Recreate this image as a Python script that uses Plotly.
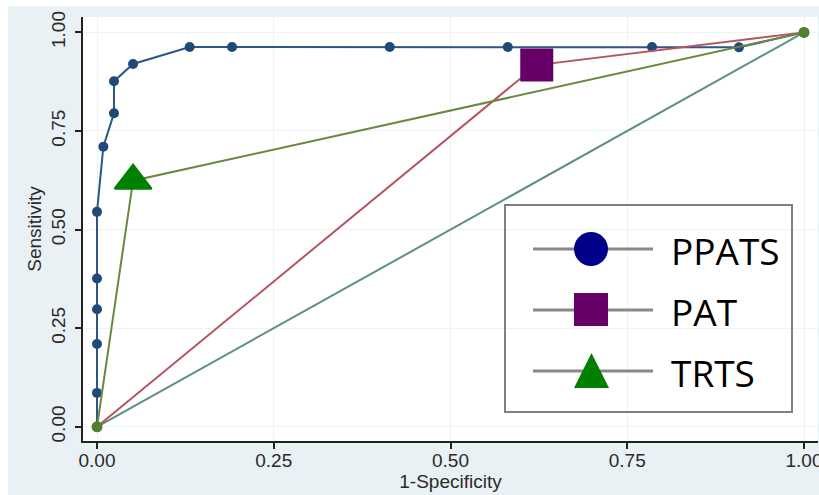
import plotly.graph_objects as go

# ---------------- data ----------------
ppats_x = [0, 0, 0, 0, 0, 0, 0.009, 0.024, 0.024, 0.051, 0.131, 0.191, 0.414, 0.581, 0.785, 0.908, 1]
ppats_y = [0, 0.086, 0.21, 0.298, 0.376, 0.545, 0.71, 0.795, 0.876, 0.92, 0.963, 0.963, 0.963, 0.963, 0.963, 0.962, 1]

pat_x = [0, 0.622, 1]
pat_y = [0, 0.917, 1]

trts_x = [0, 0.051, 1]
trts_y = [0, 0.624, 1]

ref_x = [0, 1]
ref_y = [0, 1]

tick_vals = [0, 0.25, 0.5, 0.75, 1]
tick_text = ["0.00", "0.25", "0.50", "0.75", "1.00"]
legend_names = ["PPATS", "PAT", "TRTS"]

x_title = "1-Specificity"
y_title = "Sensitivity"

# ---------------- figure ----------------
W, H = 819, 495
ML, MR, MT, MB = 83, 1, 17, 54
PW, PH = W - ML - MR, H - MT - MB


def px(x):
    return (x - ML) / PW


def py(y):
    return (H - MB - y) / PH


fig = go.Figure()

fig.add_trace(go.Scatter(x=ref_x, y=ref_y, mode="lines",
                         line=dict(color="#5f8f80", width=2), hoverinfo="skip"))
fig.add_trace(go.Scatter(x=ppats_x, y=ppats_y, mode="lines+markers",
                         line=dict(color="#2e5684", width=2),
                         marker=dict(symbol="circle", size=10, color="#1f4a78")))
fig.add_trace(go.Scatter(x=pat_x, y=pat_y, mode="lines+markers",
                         line=dict(color="#b5555f", width=2),
                         marker=dict(symbol="circle", size=10, color="#90353b")))
fig.add_trace(go.Scatter(x=trts_x, y=trts_y, mode="lines+markers",
                         line=dict(color="#6b8840", width=2),
                         marker=dict(symbol="circle", size=11, color="#4f7f2f")))
# large operating-point markers
fig.add_trace(go.Scatter(x=[pat_x[1]], y=[pat_y[1]], mode="markers",
                         marker=dict(symbol="square", size=33, color="#660066")))
fig.add_trace(go.Scatter(x=[trts_x[1]], y=[trts_y[1]], mode="markers",
                         marker=dict(symbol="triangle-up", size=32, color="#008000",
                                     line=dict(color="#008000", width=2))))

axis_font = dict(family="Liberation Sans, Arial, sans-serif", size=19, color="#2a2a2a")
common = dict(
    tickvals=tick_vals, ticktext=tick_text,
    showline=True, linecolor="#222222", linewidth=1.5,
    ticks="outside", ticklen=6, tickwidth=1.5, tickcolor="#222222",
    showgrid=True, gridcolor="#EDF2F4", gridwidth=1,
    zeroline=False, tickfont=axis_font, ticklabeloverflow="allow",
    automargin=False,
)
fig.update_xaxes(range=[-0.0198, 1.0198], ticklabelstandoff=-5,
                 title=dict(text=x_title, font=axis_font, standoff=0), **common)
fig.update_yaxes(range=[-0.036, 1.039], tickangle=-90, ticklabelstandoff=3,
                 title=dict(text=y_title, font=axis_font, standoff=1), **common)

shapes = []
# white strips at top/left of the image
shapes.append(dict(type="rect", xref="paper", yref="paper",
                   x0=px(0), x1=px(W), y0=py(6), y1=py(0),
                   fillcolor="white", line=dict(width=0), layer="above"))
shapes.append(dict(type="rect", xref="paper", yref="paper",
                   x0=px(0), x1=px(8), y0=py(H), y1=py(0),
                   fillcolor="white", line=dict(width=0), layer="above"))

# custom legend
shapes.append(dict(type="rect", xref="paper", yref="paper",
                   x0=px(505), x1=px(792), y0=py(412), y1=py(205),
                   line=dict(color="#7f7f7f", width=2), layer="above"))
rows = [249, 310, 371]
for ry in rows:
    shapes.append(dict(type="line", xref="paper", yref="paper",
                       x0=px(533), x1=px(653), y0=py(ry), y1=py(ry),
                       line=dict(color="#888888", width=3), layer="above"))
shapes.append(dict(type="circle", xref="paper", yref="paper",
                   x0=px(574), x1=px(608), y0=py(266), y1=py(232),
                   fillcolor="#00008B", line=dict(width=0), layer="above"))
shapes.append(dict(type="rect", xref="paper", yref="paper",
                   x0=px(574), x1=px(608), y0=py(326), y1=py(293),
                   fillcolor="#660066", line=dict(width=0), layer="above"))
tri = "M {},{} L {},{} L {},{} Z".format(px(574), py(388), px(609), py(388), px(591.5), py(353))
shapes.append(dict(type="path", xref="paper", yref="paper", path=tri,
                   fillcolor="#008000", line=dict(width=0), layer="above"))

annotations = []
for name, ry in zip(legend_names, rows):
    annotations.append(dict(xref="paper", yref="paper", x=px(669), y=py(ry + 1),
                            xanchor="left", yanchor="middle", showarrow=False,
                            text=name,
                            font=dict(family="Open Sans, sans-serif", size=37, color="#000000")))

fig.update_layout(
    width=W, height=H,
    margin=dict(l=ML, r=MR, t=MT, b=MB),
    paper_bgcolor="#EAF1F4", plot_bgcolor="white",
    showlegend=False,
    shapes=shapes, annotations=annotations,
)

fig.write_html("out.html")
